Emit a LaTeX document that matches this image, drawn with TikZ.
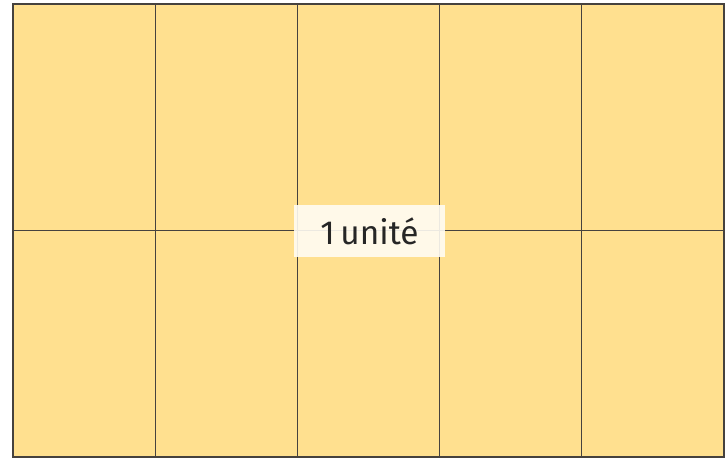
\documentclass[tikz,border=0pt]{standalone}
\usepackage{fontspec}
\setmainfont{Fira Sans}
\usetikzlibrary{positioning}
\definecolor{unityellow}{RGB}{255,224,143}
\definecolor{unitline}{RGB}{70,66,62}
\definecolor{unitlabel}{RGB}{255,252,243}

\begin{document}
\begin{tikzpicture}[x=0.02cm,y=0.02cm]
  \useasboundingbox (0,0) rectangle (728,459);
  % 5 columns x 2 rows, cell 142.2 x 226.5 (in px)
  \foreach \c in {0,...,4}
    \foreach \r in {0,1}{
      \fill[unityellow] (13+142.2*\c,2+226.5*\r) rectangle +(142.2,226.5);
      \draw[unitline,line width=0.7pt] (13+142.2*\c,2+226.5*\r) rectangle +(142.2,226.5);
    }
  \draw[unitline,line width=1.1pt] (13,2) rectangle (724,455);
  \node[fill=unitlabel,fill opacity=0.9,text opacity=1,text=black!85,
        minimum width=151*0.02cm,minimum height=52*0.02cm,inner sep=0pt,
        font=\fontsize{19}{22}\selectfont] (unitlabel) at (369.5,228) {1\,unité};
\end{tikzpicture}
\end{document}
